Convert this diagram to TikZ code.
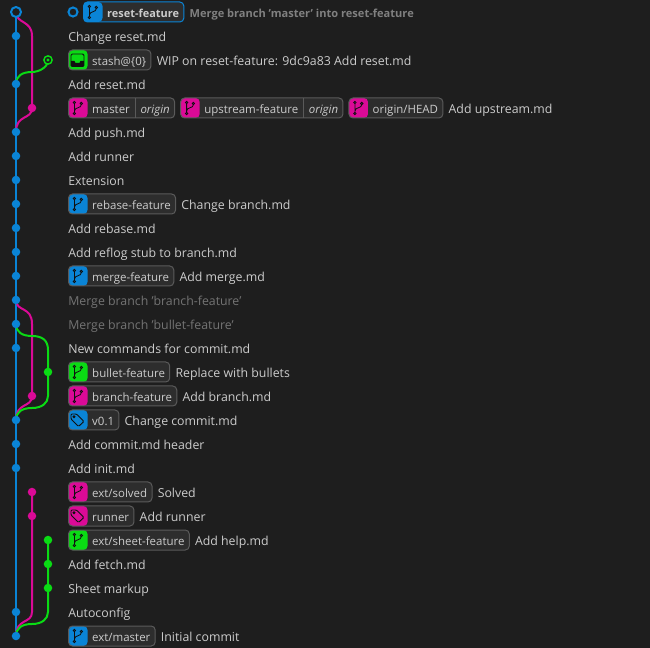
\documentclass[tikz,border=0pt]{standalone}
\usepackage{fontspec}
\setmainfont{Open Sans}
\usetikzlibrary{arrows.meta,positioning,backgrounds}
\definecolor{panelbg}{HTML}{1E1E1E}
\definecolor{badgebg}{HTML}{2D2D2D}
\definecolor{badgeline}{HTML}{5A5A5A}
\definecolor{msgtext}{HTML}{CCCCCC}
\definecolor{dimtext}{HTML}{737373}
\definecolor{headtext}{HTML}{808080}
\definecolor{lanebl}{HTML}{0A84D6}
\definecolor{lanemg}{HTML}{DB0A97}
\definecolor{lanegr}{HTML}{0ADB14}
\definecolor{iconink}{HTML}{101010}
\tikzset{
    branchicon/.pic={
        \draw[color=iconink, line width=0.6pt] (-3,-5.5) circle (1.2) (-3,5.5) circle (1.2) (3.8,-4.5) circle (1.2)
            (-3,-4.3) -- (-3,4.3) (3.8,-3.3) .. controls (3.8,0.5) and (-3,-1) .. (-3,3);
    },
    tagicon/.pic={
        \draw[color=iconink, line width=0.7pt, rounded corners=0.8pt] (-6.5,-6) -- (-1,-6) -- (6.5,1.5) -- (1,6.5) -- (-6.5,-1) -- cycle;
        \draw[color=iconink, line width=0.7pt] (-3.5,-3.3) circle (1);
    },
    stashicon/.pic={
        \draw[color=iconink, line width=0.7pt, rounded corners=1pt] (-6.5,-6) rectangle (6.5,6.5);
        \fill[iconink] (-6.5,1) -- (-3,1) -- (-2,3) -- (2,3) -- (3,1) -- (6.5,1) -- (6.5,6.5) -- (-6.5,6.5) -- cycle;
    }
}
\newcommand{\refsep}{\hspace{3.6pt}\textcolor{badgeline}{\rule[-3.6pt]{0.75pt}{15pt}}\hspace{3.6pt}}
\begin{document}
\begin{tikzpicture}[
    x=0.75pt, y=-0.75pt,
    node distance=3.75pt,
    every node/.style={font=\fontsize{9.25}{11}\selectfont, text=msgtext},
    msg/.style={anchor=west, inner xsep=0pt, inner ysep=2pt, text height=8.4pt, text depth=0.6pt},
    dimmsg/.style={msg, text=dimtext},
    badge/.style 2 args={draw=badgeline, fill=badgebg, rounded corners=3pt, line width=0.75pt, anchor=west,
        font=\fontsize{8.6}{11}\selectfont,
        minimum height=15pt, inner xsep=3.6pt, inner ysep=0pt, text height=8.4pt, text depth=0.6pt,
        execute at begin node={\hspace*{14.2pt}},
        path picture={\fill[#1] (path picture bounding box.north west) rectangle ([xshift=14.25pt]path picture bounding box.south west);},
        append after command={pic at ([xshift=7.1pt]\tikzlastnode.west) {#2}}},
    branchbadge/.style={badge={#1}{branchicon}},
    tagbadge/.style={badge={#1}{tagicon}},
    stashbadge/.style={badge={#1}{stashicon}},
    commit/.style={circle, fill=#1, inner sep=0pt, minimum size=6.4pt},
    headdot/.style={circle, draw=lanebl, fill=panelbg, line width=1.5pt, inner sep=0pt, minimum size=7.5pt},
    stashdot/.style={circle, draw=lanegr, fill=panelbg, line width=1.1pt, inner sep=0pt, minimum size=6.2pt,
        path picture={\fill[lanegr] (path picture bounding box.center) circle (1.7);}},
    lane/.style={draw=#1, line width=1.5pt}
]
% commits on the three lanes
\node[headdot] (head) at (16,12) {};
\node[commit=lanebl] (changereset) at (16,36) {};
\node[stashdot] (stash) at (48,60) {};
\node[commit=lanebl] (addreset) at (16,84) {};
\node[commit=lanemg] (master) at (32,108) {};
\node[commit=lanebl] (addpush) at (16,132) {};
\node[commit=lanebl] (addrunner) at (16,156) {};
\node[commit=lanebl] (extension) at (16,180) {};
\node[commit=lanebl] (rebasefeat) at (16,204) {};
\node[commit=lanebl] (addrebase) at (16,228) {};
\node[commit=lanebl] (addreflog) at (16,252) {};
\node[commit=lanebl] (mergefeat) at (16,276) {};
\node[commit=lanebl] (mergebranch) at (16,300) {};
\node[commit=lanebl] (mergebullet) at (16,324) {};
\node[commit=lanebl] (newcommands) at (16,348) {};
\node[commit=lanegr] (bulletfeat) at (48,372) {};
\node[commit=lanemg] (branchfeat) at (32,396) {};
\node[commit=lanebl] (vzero) at (16,420) {};
\node[commit=lanebl] (addheader) at (16,444) {};
\node[commit=lanebl] (addinit) at (16,468) {};
\node[commit=lanemg] (extsolved) at (32,492) {};
\node[commit=lanemg] (runner) at (32,516) {};
\node[commit=lanegr] (sheetfeat) at (48,540) {};
\node[commit=lanegr] (addfetch) at (48,564) {};
\node[commit=lanegr] (sheetmarkup) at (48,588) {};
\node[commit=lanebl] (autoconfig) at (16,612) {};
\node[commit=lanebl] (extmaster) at (16,636) {};
% bends of the lanes
\coordinate (toptop) at (32,36);
\coordinate (stashmid) at (32,72);
\coordinate (branchtop) at (32,324);
\coordinate (bullettop) at (48,350);
\coordinate (bulletmida) at (32,336);
\coordinate (bulletlow) at (48,396);
\coordinate (bulletmidb) at (32,408);
\coordinate (runnerlow) at (32,612);
\coordinate (sheetlow) at (48,612);
\coordinate (sheetmid) at (32,624);
\begin{scope}[on background layer]
\fill[panelbg] (0,0) rectangle (650,648);
\draw[lane=lanebl] (head) -- (extmaster);
\draw[lane=lanemg] (head.center) .. controls +(0,12) and +(0,-16) .. (toptop) -- (master.center);
\draw[lane=lanemg] (master.center) .. controls +(0,12) and +(0,-18) .. (addpush.center);
\draw[lane=lanegr] (stash.center) .. controls +(0,8) and +(6,0) .. (stashmid) .. controls +(-10,0) and +(0,-8) .. (addreset.center);
\draw[lane=lanemg] (mergebranch.center) .. controls +(0,12) and +(0,-18) .. (branchtop) -- (branchfeat.center);
\draw[lane=lanemg] (branchfeat.center) .. controls +(0,12) and +(0,-18) .. (vzero.center);
\draw[lane=lanegr] (mergebullet.center) .. controls +(0,8) and +(-10,0) .. (bulletmida) .. controls +(10,0) and +(0,-10) .. (bullettop) -- (bulletfeat.center);
\draw[lane=lanegr] (bulletfeat.center) -- (bulletlow) .. controls +(0,7) and +(10,0) .. (bulletmidb) .. controls +(-10,0) and +(0,-8) .. (vzero.center);
\draw[lane=lanemg] (extsolved.center) -- (runner.center) -- (runnerlow) .. controls +(0,12) and +(0,-18) .. (extmaster.center);
\draw[lane=lanegr] (sheetfeat.center) -- (addfetch.center) -- (sheetmarkup.center) -- (sheetlow) .. controls +(0,7) and +(10,0) .. (sheetmid) .. controls +(-10,0) and +(0,-8) .. (extmaster.center);
\end{scope}
% row 0, the checked out branch
\node[headdot, minimum size=6.8pt] (current) at (73,12) {};
\node[branchbadge=lanebl, draw=lanebl, font=\bfseries\fontsize{8.2}{11}\selectfont] (resetref) at (83,12) {reset-feature\hspace{1pt}};
\node[dimmsg, right=of resetref, font=\bfseries\fontsize{8.3}{11}\selectfont, text=headtext] (resetmsg) {Merge branch 'master' into reset-feature};
% rows with a message only or with references
\node[msg] (changemsg) at (68,36) {Change reset.md};
\node[stashbadge=lanegr] (stashref) at (68,60) {stash@\{0\}};
\node[msg, right=of stashref] (stashmsg) {WIP on reset-feature: 9dc9a83 Add reset.md};
\node[msg] (addresetmsg) at (68,84) {Add reset.md};
\node[branchbadge=lanemg] (masterref) at (68,108) {master\refsep\textit{origin}};
\node[branchbadge=lanemg, right=of masterref] (upstreamref) {upstream-feature\refsep\textit{origin}};
\node[branchbadge=lanemg, right=of upstreamref] (originref) {origin/HEAD};
\node[msg, right=of originref] (upstreammsg) {Add upstream.md};
\node[msg] (pushmsg) at (68,132) {Add push.md};
\node[msg] (runnermsg) at (68,156) {Add runner};
\node[msg] (extensionmsg) at (68,180) {Extension};
\node[branchbadge=lanebl] (rebaseref) at (68,204) {rebase-feature};
\node[msg, right=of rebaseref] (rebasemsg) {Change branch.md};
\node[msg] (addrebasemsg) at (68,228) {Add rebase.md};
\node[msg] (reflogmsg) at (68,252) {Add reflog stub to branch.md};
\node[branchbadge=lanebl] (mergeref) at (68,276) {merge-feature};
\node[msg, right=of mergeref] (mergemsg) {Add merge.md};
\node[dimmsg] (mergebranchmsg) at (68,300) {Merge branch 'branch-feature'};
\node[dimmsg] (mergebulletmsg) at (68,324) {Merge branch 'bullet-feature'};
\node[msg] (commandsmsg) at (68,348) {New commands for commit.md};
\node[branchbadge=lanegr] (bulletref) at (68,372) {bullet-feature};
\node[msg, right=of bulletref] (bulletmsg) {Replace with bullets};
\node[branchbadge=lanemg] (branchref) at (68,396) {branch-feature};
\node[msg, right=of branchref] (branchmsg) {Add branch.md};
\node[tagbadge=lanebl] (vzeroref) at (68,420) {v0.1};
\node[msg, right=of vzeroref] (vzeromsg) {Change commit.md};
\node[msg] (headermsg) at (68,444) {Add commit.md header};
\node[msg] (initmsg) at (68,468) {Add init.md};
\node[branchbadge=lanemg] (solvedref) at (68,492) {ext/solved};
\node[msg, right=of solvedref] (solvedmsg) {Solved};
\node[tagbadge=lanemg] (runnerref) at (68,516) {runner};
\node[msg, right=of runnerref] (addrunnermsg) {Add runner};
\node[branchbadge=lanegr] (sheetref) at (68,540) {ext/sheet-feature};
\node[msg, right=of sheetref] (helpmsg) {Add help.md};
\node[msg] (fetchmsg) at (68,564) {Add fetch.md};
\node[msg] (markupmsg) at (68,588) {Sheet markup};
\node[msg] (autoconfigmsg) at (68,612) {Autoconfig};
\node[branchbadge=lanebl] (masterextref) at (68,636) {ext/master};
\node[msg, right=of masterextref] (initialmsg) {Initial commit};
\end{tikzpicture}
\end{document}
